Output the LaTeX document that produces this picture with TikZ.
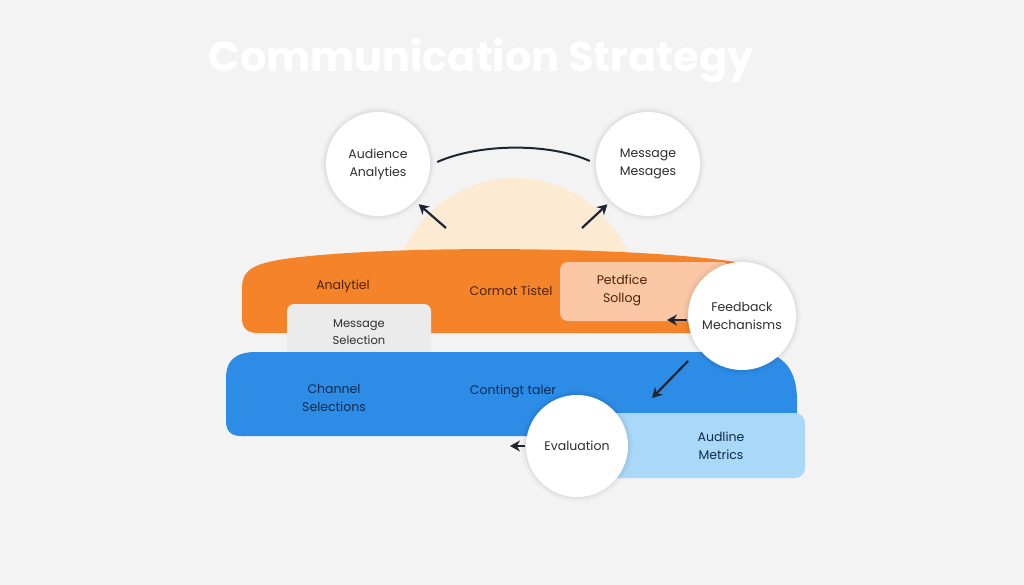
\documentclass[tikz,border=0pt]{standalone}
\usepackage{fontspec}
\setmainfont{Poppins}
\usetikzlibrary{arrows.meta}
\definecolor{bg}{HTML}{F3F3F3}
\definecolor{peachsun}{HTML}{FCEAD2}
\definecolor{orangeband}{HTML}{F5832A}
\definecolor{peachbox}{HTML}{FBC7A5}
\definecolor{graybox}{HTML}{EBEBEB}
\definecolor{blueband}{HTML}{2C8CE6}
\definecolor{lightblue}{HTML}{AAD8F8}
\definecolor{inkdark}{HTML}{1F2530}
\definecolor{txtdark}{HTML}{2E2E2E}
\definecolor{txtbrown}{HTML}{4A2408}
\definecolor{txtnavy}{HTML}{0E2B4D}
\tikzset{
  circ/.style={circle, fill=white, minimum size=104pt, inner sep=0pt, align=center,
    font=\fontsize{12.5}{18}\selectfont, text=txtdark,
    preaction={draw=black, draw opacity=0.02, line width=10pt},
    preaction={draw=black, draw opacity=0.025, line width=6pt},
    preaction={draw=black, draw opacity=0.03, line width=3pt}},
  lbl/.style={align=center, font=\fontsize{12.5}{18}\selectfont},
  arr/.style={draw=inkdark, line width=2.2pt, -{Stealth[length=10pt,width=11pt]}},
}
\begin{document}
\begin{tikzpicture}[x=1pt,y=-1pt]
\useasboundingbox (0,0) rectangle (1024,585);
\fill[bg] (0,0) rectangle (1024,585);

% title
\node[font=\fontsize{41.5}{48}\selectfont\bfseries, text=white, anchor=base] (title) at (481,72) {Communication Strategy};

% sun half disc
\begin{scope}
\clip (380,170) rectangle (650,262);
\fill[peachsun] (515,300) circle[radius=122];
\end{scope}

% orange band
\fill[orangeband] (242,318) .. controls (242,328) and (247,333) .. (258,333) -- (705,333) -- (735,262)
  .. controls (650,248) and (420,244) .. (300,257) .. controls (256,262) and (242,268) .. (242,288) -- cycle;
\fill[peachbox, rounded corners=8pt] (560,262) rectangle (730,321);
\node[fill=graybox, rounded corners=7pt, minimum width=144pt, minimum height=56pt, lbl, text=txtdark,
  font=\fontsize{11.5}{17}\selectfont] (msel) at (359,332) {Message\\Selection};
\node[lbl, text=txtbrown] (analy) at (343,286) {Analytiel};
\node[lbl, text=txtbrown] (cormot) at (511,291) {Cormot Tistel};
\node[lbl, text=txtbrown] (petd) at (622,290) {Petdfice\\Sollog};

% blue band
\fill[blueband] (226,378) .. controls (226,360) and (236,352) .. (256,352) -- (755,352)
  .. controls (785,352) and (797,372) .. (797,400) -- (797,436) -- (241,436)
  .. controls (231,436) and (226,431) .. (226,421) -- cycle;
\fill[lightblue, rounded corners=10pt] (590,413) rectangle (805,478);
\node[lbl, text=txtnavy] (chan) at (334,398) {Channel\\Selections};
\node[lbl, text=txtnavy] (conti) at (513,391) {Contingt taler};
\node[lbl, text=txtnavy] (audl) at (721,446) {Audline\\Metrics};

% circles
\node[circ] (aud) at (378,164) {Audience\\Analyties};
\node[circ] (msg) at (648,164) {Message\\Mesages};
\node[circ, minimum size=108pt] (fb) at (742,316) {Feedback\\Mechanisms};
\node[circ, minimum size=102pt] (ev) at (577,446) {Evaluation};

% connectors
\path (aud.east) ++(7,-2) coordinate (a1);
\path (msg.west) ++(-6,-3) coordinate (m1);
\draw[inkdark, line width=2pt] (a1) .. controls (480,143) and (550,143) .. (m1);
\coordinate (s1) at (446,228);
\coordinate (s2) at (582,228);
\draw[arr, shorten >=5pt] (s1) -- (aud.-45);
\draw[arr, shorten >=5pt] (s2) -- (msg.-135);
\coordinate (pb) at (667,320);
\draw[arr] (fb.west |- pb) ++(-1,0) -- (pb);
\coordinate (fbo) at (688,361);
\coordinate (bb) at (652,398);
\draw[arr] (fbo) -- (bb);
\coordinate (eb) at (510,446);
\draw[arr] (ev.west) ++(-1,0) -- (eb);
\end{tikzpicture}
\end{document}
